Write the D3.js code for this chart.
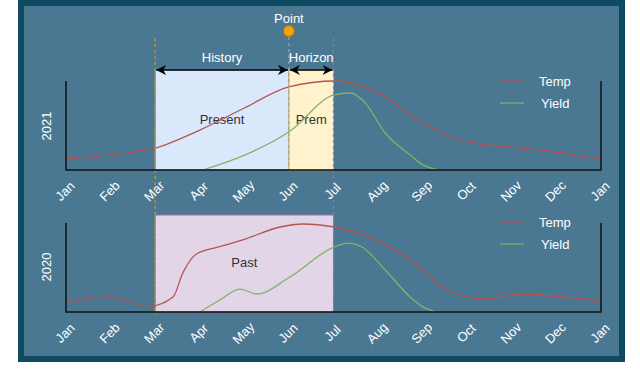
<!DOCTYPE html>
<html>
<head>
<meta charset="utf-8">
<script src="https://cdn.jsdelivr.net/npm/d3@7"></script>
<style>
  body { margin: 0; background: #ffffff; }
  svg { display: block; }
</style>
</head>
<body>
<div id="chart"></div>
<script>
// Month ticks (13 ticks, Jan to Jan)
var months = ["Jan", "Feb", "Mar", "Apr", "May", "Jun", "Jul", "Aug", "Sep", "Oct", "Nov", "Dec", "Jan"];

// 2021 series: month position (0 = Jan) and value (0..100)
var temp2021Month = [0, 1, 2, 3, 4, 5, 6.05, 7, 8, 9, 10, 11, 12];
var temp2021Value = [12.4, 16.9, 24.7, 44.9, 69.7, 93.3, 100, 86.5, 52.8, 31.5, 25.8, 20.2, 12.4];
var yield2021Month = [3.07, 4.02, 5.02, 6.01, 6.37, 6.7, 7.16, 7.72, 8.0, 8.34];
var yield2021Value = [0, 16.9, 43.5, 84.3, 86.5, 76, 41.6, 16.9, 6, 0];

// 2020 series
var temp2020Month = [0, 0.92, 1.88, 2.4, 2.62, 2.85, 3.07, 3.3, 4.02, 4.8, 5.32, 6.01, 6.8, 7.72, 8.64, 9.38, 10.18, 10.92, 12];
var temp2020Value = [10.1, 16.9, 6.7, 16.9, 43.8, 62.0, 68.5, 71.5, 82.0, 95.5, 98.9, 95.5, 84.3, 58.4, 22.5, 14.6, 20.2, 18.0, 12.4];
var yield2020Month = [3.0, 3.45, 3.9, 4.28, 5.02, 6.01, 6.33, 6.64, 7.16, 7.72, 8.0, 8.3];
var yield2020Value = [0, 13.5, 25.8, 20.2, 39.3, 73.0, 77.5, 73.0, 47.2, 16.9, 6, 0];

// Annotation months
var pastStart = 2, pointMonth = 5, horizonEnd = 6;

var drawChart = function() {
    var width = 640, height = 381;
    var font = "'Liberation Sans', Arial, Helvetica, sans-serif";
    var tempColor = "#b85450", yieldColor = "#82b366";

    var svg = d3.select("#chart").append("svg")
        .attr("width", width)
        .attr("height", height);

    // Frame
    svg.append("rect")
        .attr("x", 21).attr("y", 3)
        .attr("width", 601).attr("height", 356)
        .attr("fill", "#4a7892")
        .attr("stroke", "#0e4b63")
        .attr("stroke-width", 6);

    var x = d3.scaleLinear().domain([0, 12]).range([66, 601]);
    var yTop = d3.scaleLinear().domain([0, 100]).range([170, 81]);
    var yBot = d3.scaleLinear().domain([0, 100]).range([312, 223]);

    // Arrow marker (tip at refX, reversed at the start)
    svg.append("defs").append("marker")
        .attr("id", "arrow")
        .attr("viewBox", "0 0 10 10")
        .attr("refX", 10).attr("refY", 5)
        .attr("markerWidth", 10).attr("markerHeight", 10)
        .attr("markerUnits", "userSpaceOnUse")
        .attr("orient", "auto-start-reverse")
        .append("path")
        .attr("d", "M0,0 L10,5 L0,10 L3,5 Z")
        .attr("fill", "#000");

    // Shaded regions
    svg.append("rect")
        .attr("x", x(pastStart)).attr("y", 70)
        .attr("width", x(pointMonth) - x(pastStart)).attr("height", yTop(0) - 70)
        .attr("fill", "#dae8fc").attr("stroke", "#6c8ebf");
    svg.append("rect")
        .attr("x", x(pointMonth)).attr("y", 70)
        .attr("width", x(horizonEnd) - x(pointMonth)).attr("height", yTop(0) - 70)
        .attr("fill", "#fff2cc").attr("stroke", "#d6b656");
    svg.append("rect")
        .attr("x", x(pastStart)).attr("y", 215)
        .attr("width", x(horizonEnd) - x(pastStart)).attr("height", yBot(0) - 215)
        .attr("fill", "#e1d5e7").attr("stroke", "#9673a6");

    // Region labels
    var regionText = [
        { t: "Present", x: (x(pastStart) + x(pointMonth)) / 2, y: 119 },
        { t: "Prem", x: (x(pointMonth) + x(horizonEnd)) / 2, y: 119 },
        { t: "Past", x: (x(pastStart) + x(horizonEnd)) / 2, y: 262 }
    ];
    svg.selectAll(".region-label")
        .data(regionText).enter().append("text")
        .attr("x", function(d) { return d.x; })
        .attr("y", function(d) { return d.y; })
        .attr("dy", "0.35em")
        .attr("text-anchor", "middle")
        .attr("font-family", font).attr("font-size", 13)
        .attr("fill", "#333")
        .text(function(d) { return d.t; });

    // Lines
    var line = function(ys) {
        return d3.line()
            .x(function(d) { return x(d[0]); })
            .y(function(d) { return ys(d[1]); })
            .curve(d3.curveMonotoneX);
    };
    var series = [
        { m: temp2021Month, v: temp2021Value, c: tempColor, y: yTop },
        { m: yield2021Month, v: yield2021Value, c: yieldColor, y: yTop },
        { m: temp2020Month, v: temp2020Value, c: tempColor, y: yBot },
        { m: yield2020Month, v: yield2020Value, c: yieldColor, y: yBot }
    ];
    series.forEach(function(s) {
        svg.append("path")
            .datum(d3.zip(s.m, s.v))
            .attr("d", line(s.y))
            .attr("fill", "none")
            .attr("stroke", s.c)
            .attr("stroke-width", 1.3);
    });

    // Dashed markers
    svg.append("line")
        .attr("x1", x(pastStart)).attr("x2", x(pastStart))
        .attr("y1", 38).attr("y2", 315)
        .attr("stroke", "#d79b00").attr("stroke-width", 1.2)
        .attr("stroke-dasharray", "3,3");
    svg.append("line")
        .attr("x1", x(horizonEnd)).attr("x2", x(horizonEnd))
        .attr("y1", 38).attr("y2", 315)
        .attr("stroke", "#9673a6").attr("stroke-width", 1.2)
        .attr("stroke-dasharray", "3,3");
    svg.append("line")
        .attr("x1", x(pointMonth)).attr("x2", x(pointMonth))
        .attr("y1", 37).attr("y2", yTop(0))
        .attr("stroke", "#8aa8c8").attr("stroke-width", 1.2)
        .attr("stroke-dasharray", "3,3");

    // Axes frames (left, bottom, right) and month labels
    [[yTop, 81], [yBot, 223]].forEach(function(p) {
        var base = p[0](0);
        svg.append("path")
            .attr("d", "M" + x(0) + "," + p[1] + "V" + base + "H" + x(12) + "V" + p[1])
            .attr("fill", "none")
            .attr("stroke", "#111")
            .attr("stroke-width", 1.5);
        svg.selectAll(null)
            .data(months).enter().append("text")
            .attr("transform", function(d, i) {
                return "translate(" + (x(i) - 1) + "," + (base + 21) + ") rotate(-45)";
            })
            .attr("dy", "0.35em")
            .attr("text-anchor", "middle")
            .attr("font-family", font).attr("font-size", 13)
            .attr("fill", "#fff")
            .text(function(d) { return d; });
    });

    // Year labels
    [["2021", 126], ["2020", 267]].forEach(function(p) {
        svg.append("text")
            .attr("transform", "translate(46," + p[1] + ") rotate(-90)")
            .attr("dy", "0.35em")
            .attr("text-anchor", "middle")
            .attr("font-family", font).attr("font-size", 13)
            .attr("fill", "#fff")
            .text(p[0]);
    });

    // Legends
    [[81, 103], [222, 244]].forEach(function(ys) {
        [["Temp", tempColor, ys[0], 539], ["Yield", yieldColor, ys[1], 541]].forEach(function(l) {
            svg.append("line")
                .attr("x1", 500).attr("x2", 524)
                .attr("y1", l[2]).attr("y2", l[2])
                .attr("stroke", l[1]).attr("stroke-width", 1.2);
            svg.append("text")
                .attr("x", l[3]).attr("y", l[2])
                .attr("dy", "0.35em")
                .attr("font-family", font).attr("font-size", 13)
                .attr("fill", "#fff")
                .text(l[0]);
        });
    });

    // Arrows
    [[pastStart, pointMonth, "History"], [pointMonth, horizonEnd, "Horizon"]].forEach(function(a) {
        svg.append("line")
            .attr("x1", x(a[0]) + 1).attr("x2", x(a[1]) - 1)
            .attr("y1", 70).attr("y2", 70)
            .attr("stroke", "#000").attr("stroke-width", 1.5)
            .attr("marker-start", "url(#arrow)")
            .attr("marker-end", "url(#arrow)");
        svg.append("text")
            .attr("x", (x(a[0]) + x(a[1])) / 2).attr("y", 57)
            .attr("dy", "0.35em")
            .attr("text-anchor", "middle")
            .attr("font-family", font).attr("font-size", 13)
            .attr("fill", "#fff")
            .text(a[2]);
    });

    // Point marker
    svg.append("circle")
        .attr("cx", x(pointMonth)).attr("cy", 31).attr("r", 5.5)
        .attr("fill", "#f0a30a").attr("stroke", "#bd7000");
    svg.append("text")
        .attr("x", x(pointMonth)).attr("y", 18)
        .attr("dy", "0.35em")
        .attr("text-anchor", "middle")
        .attr("font-family", font).attr("font-size", 13)
        .attr("fill", "#fff")
        .text("Point");
};

window.addEventListener("load", drawChart);
</script>
</body>
</html>
